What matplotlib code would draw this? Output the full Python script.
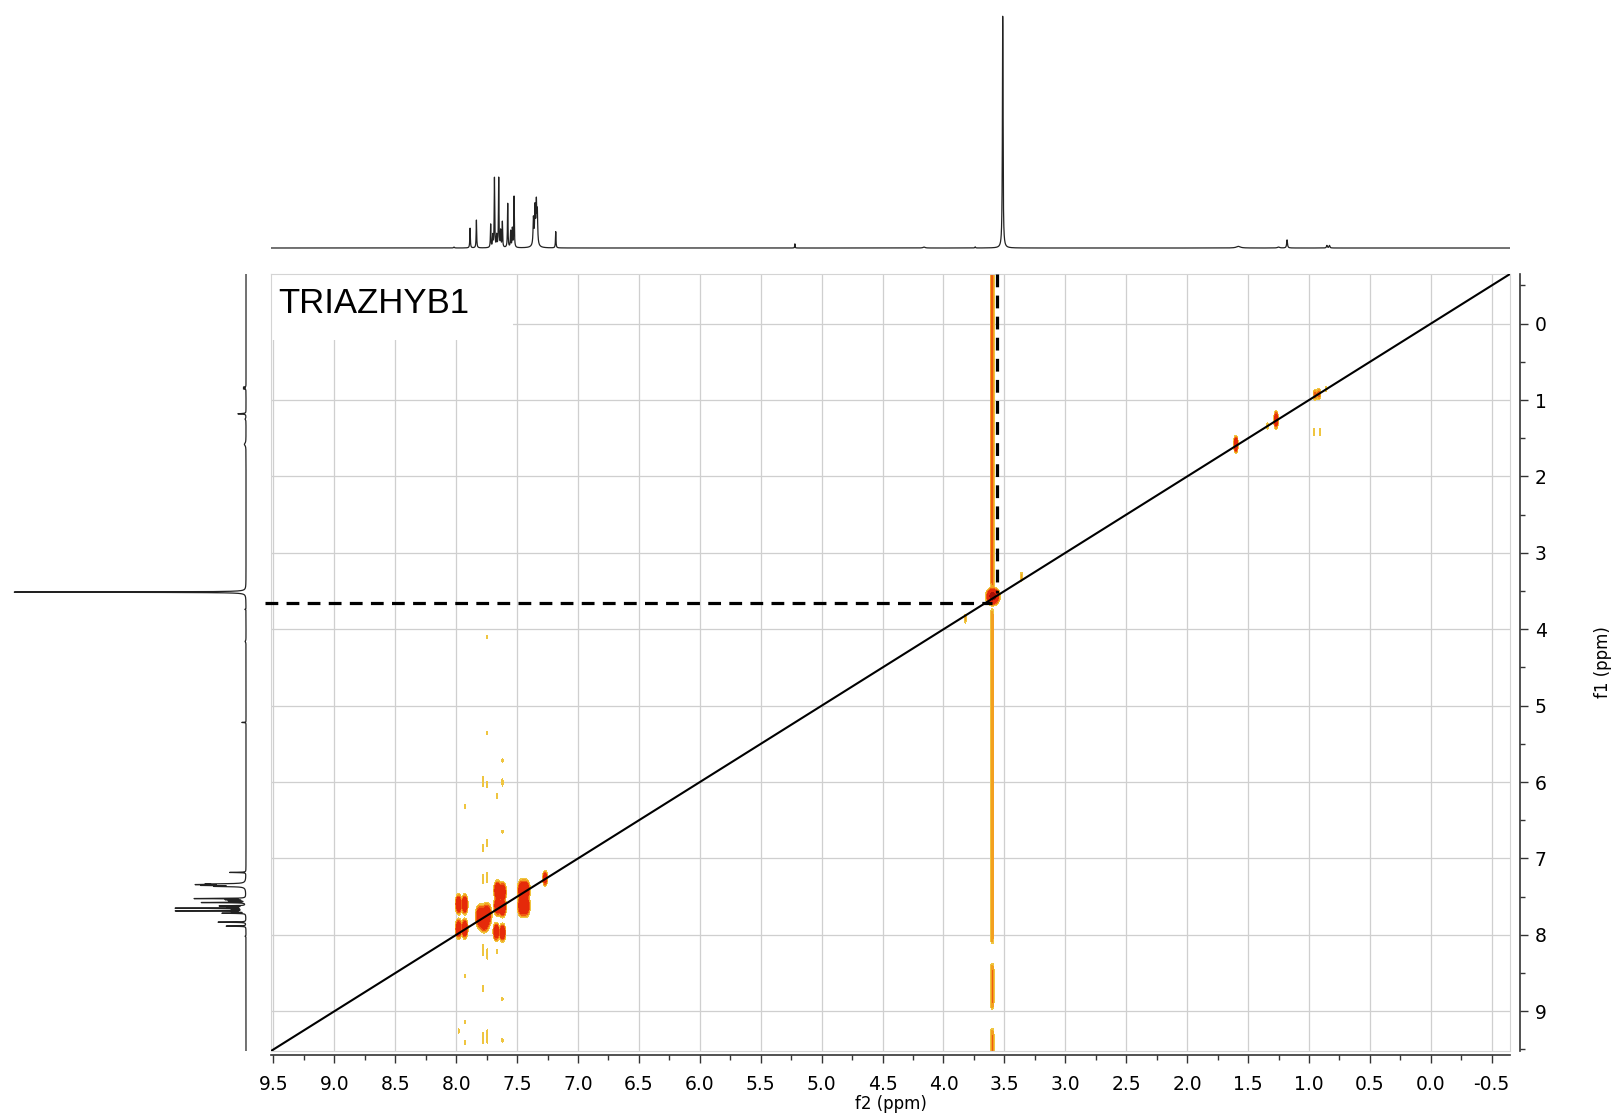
import numpy as np
import matplotlib
matplotlib.use('Agg')
import matplotlib.pyplot as plt
from matplotlib.patches import Rectangle

# ---------------- data ----------------
sample_name = 'TRIAZHYB1'

# 1H projection: shift (ppm), height (rel. to CH3O), half width (ppm)
h_shift = [8.018, 7.886, 7.834, 7.717, 7.700, 7.686, 7.668, 7.651, 7.635, 7.621,
           7.577, 7.553, 7.539, 7.525, 7.366, 7.353, 7.342, 7.334, 7.350, 7.183,
           5.22, 4.16, 3.74, 3.514, 1.58, 1.25, 1.18, 0.853, 0.832]
h_height = [0.004, 0.085, 0.12, 0.10, 0.05, 0.30, 0.05, 0.30, 0.07, 0.11,
            0.19, 0.07, 0.08, 0.22, 0.11, 0.14, 0.16, 0.13, 0.03, 0.07,
            0.018, 0.004, 0.005, 1.0, 0.007, 0.004, 0.035, 0.011, 0.011]
h_hwhm = [0.004, 0.0025, 0.0025, 0.0025, 0.0025, 0.0025, 0.0025, 0.0025, 0.0025, 0.0025,
          0.0025, 0.0025, 0.0025, 0.0025, 0.0035, 0.0035, 0.0035, 0.0035, 0.015, 0.0025,
          0.002, 0.01, 0.003, 0.003, 0.02, 0.01, 0.004, 0.004, 0.004]

# COSY peaks: f2, f1, amplitude, sigma f2, sigma f1
pk_f2 = [7.98, 7.93, 7.98, 7.93, 7.80, 7.75, 7.77, 7.66, 7.62, 7.66, 7.62, 7.67, 7.62,
         7.46, 7.43, 7.46, 7.43, 7.27,
         3.595, 3.36, 3.82,
         1.60, 1.27, 0.95, 0.92, 0.86, 1.34, 0.96, 0.91]
pk_f1 = [7.60, 7.60, 7.92, 7.92, 7.76, 7.74, 7.84, 7.42, 7.44, 7.62, 7.64, 7.96, 7.97,
         7.42, 7.42, 7.62, 7.62, 7.26,
         3.57, 3.31, 3.86,
         1.58, 1.26, 0.93, 0.92, 0.86, 1.34, 1.42, 1.42]
pk_amp = [2.5, 2.5, 2.5, 2.5, 2.5, 2.5, 2.0, 2.5, 2.5, 2.5, 2.5, 2.5, 2.5,
          2.5, 2.5, 2.5, 2.5, 1.5,
          6.0, 0.15, 0.15,
          2.0, 2.0, 0.4, 0.4, 0.12, 0.12, 0.12, 0.12]
pk_sx = [0.010, 0.010, 0.010, 0.010, 0.016, 0.016, 0.016, 0.012, 0.012, 0.012, 0.012, 0.010, 0.010,
         0.014, 0.014, 0.014, 0.014, 0.008,
         0.02, 0.005, 0.005,
         0.007, 0.007, 0.008, 0.008, 0.006, 0.005, 0.004, 0.004]
pk_sy = [0.05, 0.05, 0.05, 0.05, 0.06, 0.06, 0.05, 0.05, 0.05, 0.05, 0.05, 0.045, 0.045,
         0.055, 0.055, 0.055, 0.055, 0.04,
         0.04, 0.04, 0.04,
         0.045, 0.045, 0.035, 0.035, 0.025, 0.035, 0.035, 0.035]

# t1 noise dashes in the aromatic columns: f2, f1 centre, half length
noise_f2 = [7.78, 7.78, 7.78, 7.78, 7.78, 7.78,
            7.745, 7.745, 7.745, 7.745, 7.745, 7.745, 7.745,
            7.667, 7.667,
            7.62, 7.62, 7.62, 7.62, 7.62,
            7.93, 7.93, 7.93, 7.93, 7.98]
noise_f1 = [5.99, 6.86, 7.27, 8.20, 8.70, 9.35,
            4.10, 5.36, 6.03, 6.80, 7.25, 8.25, 9.33,
            6.18, 8.22,
            5.72, 6.00, 6.65, 8.84, 9.38,
            6.32, 8.54, 9.14, 9.41, 9.26]
noise_len = [0.09, 0.06, 0.08, 0.10, 0.05, 0.09,
             0.03, 0.03, 0.05, 0.06, 0.09, 0.09, 0.12,
             0.05, 0.04,
             0.03, 0.07, 0.03, 0.03, 0.04,
             0.03, 0.03, 0.03, 0.04, 0.04]

# t1 ridge of the methoxy signal
ridge_f2 = 3.60
ridge_start = [-0.80, 3.75, 8.40, 9.25]
ridge_end = [3.45, 8.10, 8.95, 9.70]
ridge_amp = [0.28, 0.18, 0.26, 0.26]

# cursor cross
vline_f2 = 3.557
vline_f1 = [-0.65, 3.52]
hline_f1 = 3.65
hline_f2 = [9.57, 3.60]

f2_ticks = np.arange(9.5, -0.51, -0.5)
f2_labels = ['%.1f' % v for v in f2_ticks]
f1_ticks = np.arange(0, 10)
f1_labels = [str(v) for v in f1_ticks]
ppm_lim = (9.52, -0.65)

# ---------------- figure ----------------
W, H = 1622, 1120
fig = plt.figure(figsize=(W / 100, H / 100), dpi=100)


def px_axes(left, top, right, bottom):
    return fig.add_axes([left / W, 1 - bottom / H, (right - left) / W, (bottom - top) / H])


ax = px_axes(271, 274, 1510, 1051)
ax_top = px_axes(271, 12, 1510, 252)
ax_left = px_axes(10, 274, 250, 1051)
ax_frame = px_axes(271, 274, 1510, 1051)

# 1D projections
ppm = np.linspace(9.7, -0.8, 42000)
spec = np.zeros_like(ppm)
for c, h, w in zip(h_shift, h_height, h_hwhm):
    spec += h * w ** 2 / ((ppm - c) ** 2 + w ** 2)

ax_top.plot(ppm, spec, color='#222222', lw=0.9)
ax_top.set_xlim(ppm_lim)
ax_top.set_ylim(-0.0172, 1.0172)
ax_top.axis('off')

ax_left.plot(spec, ppm, color='#222222', lw=0.9)
ax_left.set_ylim(ppm_lim)
ax_left.set_xlim(1.0172, -0.0172)
ax_left.axis('off')

# 2D COSY surface
gx = np.linspace(ppm_lim[0], ppm_lim[1], 2600)
gy = np.linspace(ppm_lim[1], ppm_lim[0], 1000)
Z = np.zeros((gy.size, gx.size))
for x0, y0, a, sx, sy in zip(pk_f2, pk_f1, pk_amp, pk_sx, pk_sy):
    Z += a * np.outer(np.exp(-0.5 * ((gy - y0) / sy) ** 2), np.exp(-0.5 * ((gx - x0) / sx) ** 2))
for x0, y0, hl in zip(noise_f2, noise_f1, noise_len):
    Z += 0.11 * np.outer(np.exp(-0.5 * ((gy - y0) / (hl / 1.6)) ** 2),
                         np.exp(-0.5 * ((gx - x0) / 0.004) ** 2))
ridge_x = np.exp(-0.5 * ((gx - ridge_f2) / 0.008) ** 2)
for a0, b0, amp in zip(ridge_start, ridge_end, ridge_amp):
    box = 1 / (1 + np.exp(-(gy - a0) / 0.02)) / (1 + np.exp((gy - b0) / 0.02))
    Z += amp * np.outer(box, ridge_x)

levels = [0.05, 0.12, 0.25, 0.5, 3.0, 100]
colors = ['#efc540', '#f3a020', '#ee5a12', '#e52a0a', '#a81005']
ax.contourf(gx, gy, Z, levels=levels, colors=colors, zorder=1)

ax.set_xlim(ppm_lim)
ax.set_ylim(ppm_lim)
ax.set_xticks(f2_ticks)
ax.set_yticks(f1_ticks)
ax.tick_params(length=0, labelbottom=False, labelleft=False)
ax.grid(True, color='#cfcfcf', lw=0.9)
ax.set_axisbelow(True)
for s in ax.spines.values():
    s.set_color('#d4d4d4')

# diagonal and cursor
ax.plot(ppm_lim, ppm_lim, color='black', lw=1.5, zorder=3)
ax.plot([vline_f2, vline_f2], vline_f1, color='black', lw=2.3,
        dashes=(4.0, 2.6), zorder=4)
ax.plot(hline_f2, [hline_f1, hline_f1], color='black', lw=2.3,
        dashes=(4.0, 2.6), zorder=4, clip_on=False)

# sample name box
ax.add_patch(Rectangle((ppm_lim[0], ppm_lim[1]), 7.53 - ppm_lim[0], 0.21 - ppm_lim[1],
                       facecolor='white', edgecolor='none', zorder=2))
ax.text(9.46, -0.14, sample_name, fontsize=25, family='Liberation Sans',
        va='baseline', ha='left', zorder=5)

# outer black axes
ax_frame.set_facecolor('none')
ax_frame.set_xlim(ppm_lim)
ax_frame.set_ylim(ppm_lim)
ax_frame.spines['left'].set_visible(False)
ax_frame.spines['top'].set_visible(False)
ax_frame.spines['bottom'].set_position(('outward', 3))
ax_frame.spines['right'].set_position(('outward', 7))
for side in ('bottom', 'right'):
    ax_frame.spines[side].set_color('#333333')
    ax_frame.spines[side].set_linewidth(1.2)
ax_frame.yaxis.tick_right()
ax_frame.set_xticks(f2_ticks)
ax_frame.set_xticklabels(f2_labels)
ax_frame.set_xticks(np.arange(9.25, -0.6, -0.5), minor=True)
ax_frame.set_yticks(f1_ticks)
ax_frame.set_yticklabels(f1_labels)
ax_frame.set_yticks(np.arange(-0.5, 9.6, 1.0), minor=True)
ax_frame.tick_params(which='major', length=6, width=1, color='#333333',
                     labelsize=13.5, pad=5)
ax_frame.tick_params(axis='x', which='major', pad=8)
ax_frame.tick_params(which='minor', length=3.5, width=1, color='#333333')
ax_frame.set_xlabel('f2 (ppm)', fontsize=12)
ax_frame.xaxis.set_label_coords(0.5, -0.068)
ax_frame.xaxis.label.set_va('center')
ax_frame.yaxis.set_label_position('right')
ax_frame.set_ylabel('f1 (ppm)', fontsize=12, rotation=90)
ax_frame.yaxis.set_label_coords(1.075, 0.5)
ax_frame.yaxis.label.set_va('center')

fig.savefig('out.png', dpi=100, facecolor='white')
